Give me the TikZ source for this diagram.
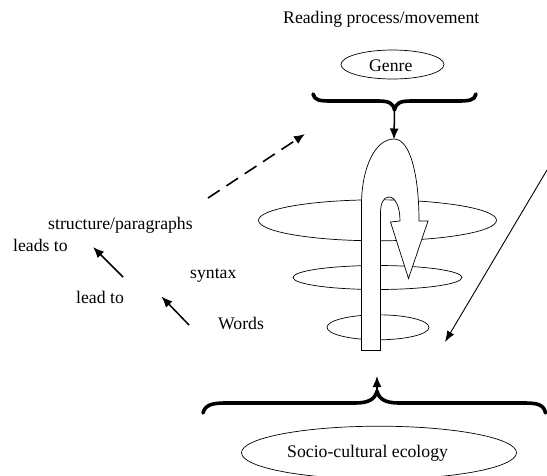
\documentclass[tikz,border=0pt]{standalone}
\usepackage{fontspec}
\setmainfont{Liberation Serif}
\usetikzlibrary{arrows.meta,shapes.geometric}
\begin{document}
\begin{tikzpicture}[x=1pt,y=-1pt,
  lbl/.style={anchor=base west,inner sep=0pt,font=\fontsize{17.7}{20}\selectfont},
  ring/.style={draw,ellipse,inner sep=0pt,line width=0.7pt},
  bracepath/.style={line width=3.6pt,line cap=round,line join=round},
  arr/.style={line width=1.5pt,-{Latex[length=11pt,width=9pt]}},
  thinarr/.style={line width=0.9pt,-{Latex[length=11pt,width=8pt]}},
  dasharr/.style={line width=1.6pt,dash pattern=on 14pt off 8pt,-{Latex[length=11pt,width=9pt]}}]
\useasboundingbox (0,0) rectangle (547,475);
% texts
\node[lbl] (title) at (283,23) {Reading process/movement};
\node[ring,minimum width=103pt,minimum height=29pt] (genre) at (392.5,64.5) {};
\node[lbl] (genret) at (369,71.5) {Genre};
\node[lbl] (struct) at (48,229) {structure/paragraphs};
\node[lbl] (leads) at (13,251.5) {leads to};
\node[lbl] (syntax) at (190,278) {syntax};
\node[lbl] (lead) at (76,303) {lead to};
\node[lbl] (words) at (218,329) {Words};
\node[ring,minimum width=275pt,minimum height=53pt] (eco) at (379,452.7) {};
\node[lbl] (ecot) at (287,457) {Socio-cultural ecology};
% rings
\node[ring,minimum width=238pt,minimum height=41pt] (r1) at (377.5,220.3) {};
\node[ring,minimum width=169pt,minimum height=24pt] (r2) at (377.5,277.5) {};
\node[ring,minimum width=102pt,minimum height=25pt] (r3) at (378,327.3) {};
% loop shape
\draw[fill=white,line width=0.7pt,line join=miter]
  (361.5,350.5) -- (361.5,205) .. controls (361.5,168) and (375,139) .. (394,139)
  .. controls (411,139) and (419,178) .. (419,221) -- (428,221) -- (408.5,278.5)
  -- (390.5,222) -- (400,221) .. controls (400,206) and (395,197) .. (389,197)
  .. controls (383,197) and (380.5,204) .. (380.5,213) -- (380.5,350.5) -- cycle;
% braces
\coordinate (tb) at (394.5,110);
\coordinate (bb) at (377,391);
\draw[bracepath] (313,94) .. controls (314.5,100.5) and (320,101) .. (332,101) -- (378,101)
  .. controls (389,101) and (393,103) .. (tb) .. controls (396,103) and (400,101) .. (411,101)
  -- (457,101) .. controls (469,101) and (474.5,100.5) .. (476,94);
\draw[bracepath] (203,413) .. controls (205,405) and (212,403) .. (225,403) -- (355,403)
  .. controls (369,403) and (375,399) .. (bb) .. controls (379,399) and (385,403) .. (399,403)
  -- (525,403) .. controls (538,403) and (544,405) .. (545.5,413);
% arrows
\coordinate (loopTop) at (394,139.5);
\coordinate (ecoUp) at (377,376);
\draw[arr] (tb) -- (loopTop);
\draw[arr] (bb) -- (ecoUp);
\coordinate (rs) at (547,170);
\coordinate (re) at (445,342);
\draw[thinarr] (rs) -- (re);
\coordinate (ds) at (208,198);
\coordinate (de) at (305,134);
\draw[dasharr] (ds) -- (de);
\coordinate (a1s) at (123,277);
\coordinate (a1e) at (93,247);
\draw[arr] (a1s) -- (a1e);
\coordinate (a2s) at (189,325);
\coordinate (a2e) at (161.5,296.5);
\draw[arr] (a2s) -- (a2e);
\end{tikzpicture}
\end{document}
